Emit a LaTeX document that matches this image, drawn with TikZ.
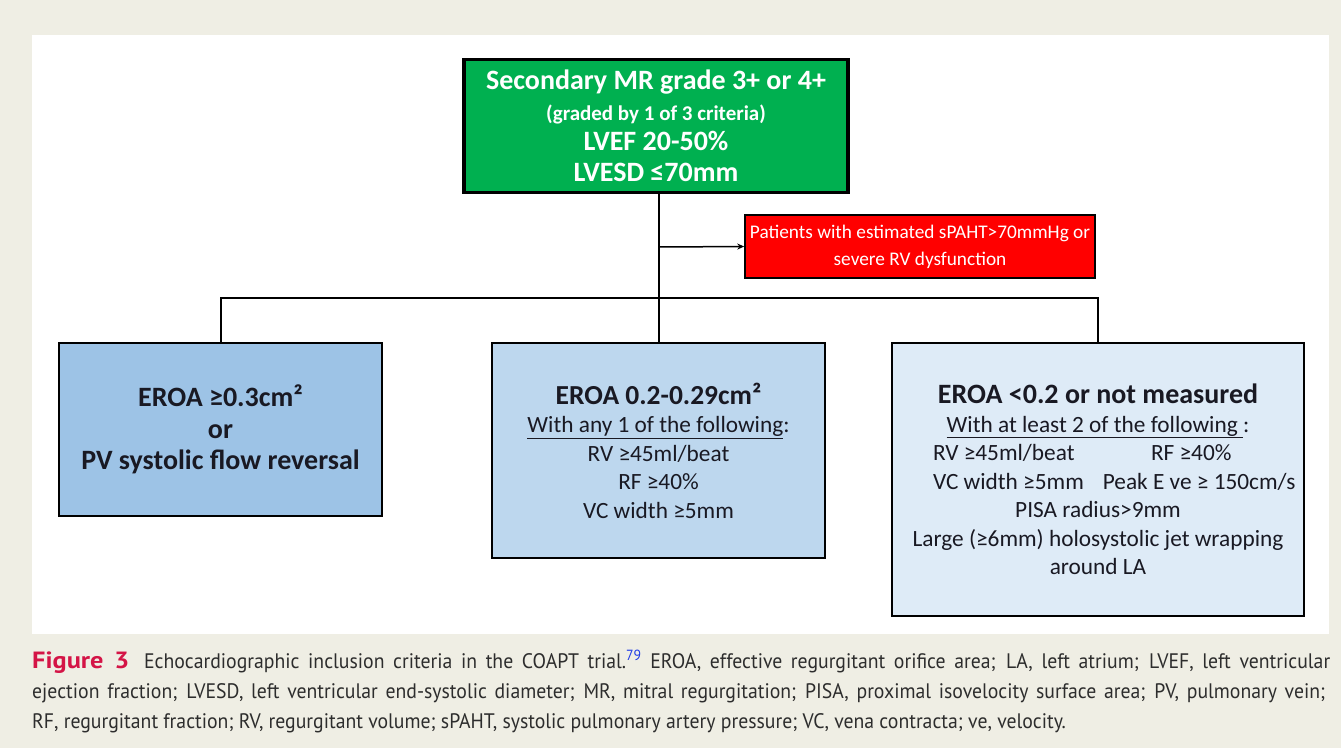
\documentclass[tikz,border=0pt]{standalone}
\usepackage{fontspec}
\setmainfont{Carlito}
\newfontfamily\capfont[FakeStretch=0.94]{PT Sans}
\newfontfamily\figfont[FakeStretch=1.12]{PT Sans}
\usetikzlibrary{arrows.meta}
\definecolor{bgbeige}{RGB}{239,238,228}
\definecolor{ggreen}{RGB}{0,176,80}
\definecolor{rred}{RGB}{255,0,0}
\definecolor{blueA}{RGB}{157,195,230}
\definecolor{blueB}{RGB}{189,215,238}
\definecolor{blueC}{RGB}{222,235,247}
\definecolor{figred}{RGB}{212,20,70}
\definecolor{captext}{RGB}{45,45,45}
\definecolor{refblue}{RGB}{30,60,230}
\definecolor{boxtext}{RGB}{25,25,35}
\tikzset{
  box/.style={draw=black, line width=2pt, inner sep=0pt, align=center, text=boxtext},
  conn/.style={draw=black, line width=2pt},
  capline/.style={anchor=base west, inner sep=0pt, text=captext, font=\capfont\fontsize{21}{24}\selectfont},
}
\begin{document}
\begin{tikzpicture}[x=1pt,y=-1pt]
\useasboundingbox (0,0) rectangle (1341,748);
\fill[bgbeige] (0,0) rectangle (1341,748);
\fill[white] (32,35) rectangle (1329,634);

% top box
\node[box, fill=ggreen, line width=3.5pt, text=white, minimum width=384pt, minimum height=133pt,
      font=\bfseries\fontsize{28}{30.5}\selectfont] (top) at (656,126)
  {Secondary MR grade 3+ or 4+\\{\fontsize{21}{30.5}\selectfont (graded by 1 of 3 criteria)}\\LVEF 20-50\%\\LVESD ≤70mm};

% red box
\node[box, fill=rred, line width=1.5pt, text=white, minimum width=350pt, minimum height=63pt,
      font=\fontsize{19.3}{27}\selectfont] (excl) at (920,246.5)
  {Patients with estimated sPAHT>70mmHg or\\severe RV dysfunction};

% bottom boxes
\node[box, fill=blueA, minimum width=323pt, minimum height=173pt,
      font=\bfseries\fontsize{28}{31.5}\selectfont] (left) at (220.5,429.5)
  {EROA ≥0.3cm²\\or\\PV systolic flow reversal};

\node[box, fill=blueB, minimum width=333pt, minimum height=215pt,
      font=\fontsize{23.3}{28.5}\selectfont] (mid) at (658.5,450.5)
  {{\bfseries\fontsize{27.5}{28.5}\selectfont EROA 0.2-0.29cm²}\\\underline{With any 1 of the following}:\\RV ≥45ml/beat\\RF ≥40\%\\VC width ≥5mm};

\node[box, fill=blueC, minimum width=412pt, minimum height=273pt,
      font=\fontsize{23.3}{28.5}\selectfont] (right) at (1098,479.5)
  {{\bfseries\fontsize{28}{28.5}\selectfont EROA <0.2 or not measured}\\
   \underline{With at least 2 of the following }:\\
   \makebox[330pt][l]{\makebox[218pt][l]{RV ≥45ml/beat}RF ≥40\%}\\
   \makebox[330pt][l]{VC width ≥5mm\hspace{19pt}Peak E ve ≥ 150cm/s}\\
   PISA radius>9mm\\
   Large (≥6mm) holosystolic jet wrapping\\
   around LA};

% connectors
\coordinate (drop) at (top.south -| mid.north);
\coordinate (junc) at (drop |- 0,298);
\coordinate (tap) at (drop |- 0,247);
\draw[conn] (drop) -- (mid.north);
\draw[conn] (junc) -| (left.north);
\draw[conn] (junc) -| (right.north);
\draw[conn, line width=1.5pt, -{Stealth[length=7pt,width=6pt]}] (tap) -- (excl.west);

% caption
\node[capline] (cap1) at (32,668) {\makebox[1298pt][s]{{\figfont\bfseries\color{figred}\fontsize{23.5}{24}\selectfont Figure 3}\hspace{6pt} Echocardiographic inclusion criteria in the COAPT trial.\textsuperscript{\color{refblue}79} EROA, effective regurgitant orifice area; LA, left atrium; LVEF, left ventricular}};
\node[capline] (cap2) at (32,698) {\makebox[1293pt][s]{ejection fraction; LVESD, left ventricular end-systolic diameter; MR, mitral regurgitation; PISA, proximal isovelocity surface area; PV, pulmonary vein;}};
\node[capline] (cap3) at (32,728) {RF, regurgitant fraction; RV, regurgitant volume; sPAHT, systolic pulmonary artery pressure; VC, vena contracta; ve, velocity.};
\end{tikzpicture}
\end{document}
